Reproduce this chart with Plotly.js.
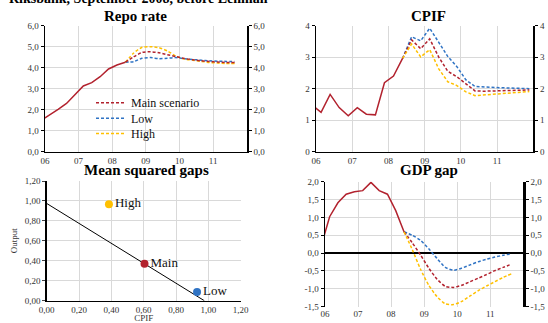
<!DOCTYPE html>
<html>
<head>
<meta charset="utf-8">
<script src="https://cdn.plot.ly/plotly-3.0.1.min.js"></script>
<style>
html,body{margin:0;padding:0;background:#fff;}
#chart{width:548px;height:323px;}
</style>
</head>
<body>
<div id="chart"></div>
<script>
// ---------- DATA ----------
const histQuarters = ["2005Q4","2006Q1","2006Q2","2006Q3","2006Q4","2007Q1","2007Q2","2007Q3","2007Q4","2008Q1","2008Q2"];
const scenQuarters = ["2008Q2","2008Q3","2008Q4","2009Q1","2009Q2","2009Q3","2009Q4","2010Q1","2010Q2","2010Q3","2010Q4","2011Q1","2011Q2","2011Q3","2011Q4"];

const repoHist = [1.50, 1.75, 2.02, 2.30, 2.70, 3.13, 3.29, 3.57, 3.94, 4.13, 4.26];
const repoMain = [4.26, 4.52, 4.73, 4.76, 4.71, 4.62, 4.53, 4.44, 4.38, 4.33, 4.29, 4.27, 4.25, 4.25];
const repoLow  = [4.26, 4.29, 4.45, 4.48, 4.43, 4.45, 4.48, 4.43, 4.39, 4.36, 4.33, 4.31, 4.30, 4.29];
const repoHigh = [4.26, 4.70, 4.97, 5.00, 4.95, 4.80, 4.56, 4.41, 4.36, 4.30, 4.25, 4.22, 4.20, 4.20];

const cpifHist = [1.48, 1.25, 1.82, 1.40, 1.14, 1.40, 1.19, 1.17, 2.19, 2.40, 2.96];
const cpifMain = [2.96, 3.55, 3.27, 3.58, 3.00, 2.55, 2.38, 2.15, 1.93, 1.92, 1.93, 1.94, 1.95, 1.96, 1.96];
const cpifLow  = [2.96, 3.65, 3.52, 3.92, 3.47, 3.02, 2.70, 2.28, 2.07, 2.05, 2.04, 2.03, 2.02, 2.01, 2.00];
const cpifHigh = [2.96, 3.42, 3.01, 3.24, 2.63, 2.22, 2.10, 1.90, 1.78, 1.80, 1.83, 1.86, 1.88, 1.90, 1.91];

const gdpHist = [0.22, 1.02, 1.41, 1.65, 1.72, 1.75, 1.98, 1.75, 1.65, 1.19, 0.60];
const gdpMain = [0.60, 0.29, -0.05, -0.42, -0.73, -0.93, -0.96, -0.90, -0.80, -0.70, -0.60, -0.49, -0.40, -0.31];
const gdpLow  = [0.60, 0.50, 0.36, 0.12, -0.15, -0.40, -0.48, -0.42, -0.33, -0.24, -0.17, -0.11, -0.06, -0.02];
const gdpHigh = [0.60, 0.10, -0.45, -0.90, -1.22, -1.42, -1.44, -1.35, -1.20, -1.05, -0.92, -0.80, -0.68, -0.58];

const msgLabels = ["Main", "Low", "High"];
const msgCPIF   = [0.605, 0.93, 0.385];
const msgOutput = [0.37, 0.087, 0.967];
const lossLineCPIF   = [0, 0.975];
const lossLineOutput = [0.975, 0];

const yearTicks  = [2006, 2007, 2008, 2009, 2010, 2011];
const yearLabels = ["06", "07", "08", "09", "10", "11"];
const gdpTickVals = [-1.5, -1.0, -0.5, 0.0, 0.5, 1.0, 1.5, 2.0];
const gdpTickText = ["-1,5", "-1,0", "-0,5", "0,0", "0,5", "1,0", "1,5", "2,0"];

// ---------- HELPERS ----------
function qx(q) { // quarter label -> position on time axis (mid-quarter)
  const y = parseInt(q.slice(0, 4), 10), n = parseInt(q.slice(5), 10);
  return y + (n - 1) / 4 + 0.14;
}
const hx = histQuarters.map(qx);
const sx = scenQuarters.map(qx);

const RED = "#B2222E", BLUE = "#2F73C4", YEL = "#FFC000";
const FONT = "Liberation Serif";
const DASH = "3px,2px";

function scen(x, y, color, name, xa, ya, legend, spline, legendId) {
  const t = {x: x.slice(0, y.length), y: y, type: "scatter", mode: "lines", name: name,
    xaxis: xa, yaxis: ya, showlegend: legend, hoverinfo: "skip",
    line: {color: color, width: 1.5, dash: DASH, shape: spline ? "spline" : "linear", smoothing: 0.6}};
  if (legendId) t.legend = legendId;
  return t;
}
function hist(y, xa, ya) {
  return {x: hx, y: y, type: "scatter", mode: "lines", xaxis: xa, yaxis: ya,
    showlegend: false, hoverinfo: "skip", line: {color: RED, width: 1.5}};
}

const data = [
  hist(repoHist, "x", "y"),
  scen(sx, repoLow, BLUE, "Low", "x", "y", true, true, "legend2"),
  scen(sx, repoHigh, YEL, "High", "x", "y", true, true, "legend3"),
  scen(sx, repoMain, RED, "Main scenario", "x", "y", true, true, "legend"),
  {x: [], y: [], xaxis: "x", yaxis: "y5", type: "scatter", showlegend: false},

  scen(sx, cpifLow, BLUE, "Low", "x2", "y2", false, false),
  scen(sx, cpifMain, RED, "Main scenario", "x2", "y2", false, false),
  scen(sx, cpifHigh, YEL, "High", "x2", "y2", false, false),
  hist(cpifHist, "x2", "y2"),
  {x: [], y: [], xaxis: "x2", yaxis: "y6", type: "scatter", showlegend: false},

  {x: lossLineCPIF, y: lossLineOutput, xaxis: "x3", yaxis: "y3", type: "scatter", mode: "lines",
    showlegend: false, hoverinfo: "skip", line: {color: "#000", width: 1}},
  {x: msgCPIF, y: msgOutput, text: msgLabels, xaxis: "x3", yaxis: "y3", type: "scatter",
    mode: "markers+text", textposition: "middle right", showlegend: false, hoverinfo: "skip",
    textfont: {family: FONT, size: 13, color: "#111"},
    marker: {size: 8, color: [RED, BLUE, YEL]}},

  scen(sx, gdpLow, BLUE, "Low", "x4", "y4", false, true),
  scen(sx, gdpMain, RED, "Main scenario", "x4", "y4", false, true),
  scen(sx, gdpHigh, YEL, "High", "x4", "y4", false, true),
  hist(gdpHist, "x4", "y4"),
  {x: [], y: [], xaxis: "x4", yaxis: "y7", type: "scatter", showlegend: false}
];

const tickFont = {family: FONT, size: 9, color: "#333"};
const GRID = "#d9d9d9";

function timeX(domain, anchor) {
  return {domain: domain, anchor: anchor, range: [2006, 2012], tickvals: yearTicks, ticktext: yearLabels,
    showgrid: true, gridcolor: GRID, gridwidth: 1, showline: true, linecolor: "#000", linewidth: 1.5,
    zeroline: false, ticks: "", tickfont: tickFont, fixedrange: true};
}
function leftY(domain, anchor, range, dtick, fmt) {
  return {domain: domain, anchor: anchor, range: range, dtick: dtick, tick0: 0, tickformat: fmt,
    showgrid: true, gridcolor: GRID, gridwidth: 1, showline: true, linecolor: "#000", linewidth: 1.5,
    zeroline: false, ticks: "outside", ticklen: 3, tickcolor: "#000", tickfont: tickFont, fixedrange: true};
}
function rightY(over, anchor, range, dtick, fmt, lw) {
  return {overlaying: over, side: "right", anchor: anchor, range: range, dtick: dtick, tick0: 0, tickformat: fmt,
    showgrid: false, showline: true, linecolor: "#000", linewidth: lw, zeroline: false,
    ticks: "outside", ticklen: 3, tickcolor: "#000", tickfont: tickFont, fixedrange: true};
}

const W = 548, H = 323;
const px = v => v / W, py = v => 1 - v / H;

function legendAt(cy) {
  return {x: px(91), y: py(cy), xanchor: "left", yanchor: "middle", bgcolor: "rgba(0,0,0,0)",
    font: {family: FONT, size: 12, color: "#111"}, itemwidth: 30, borderwidth: 0};
}

const layout = {
  width: W, height: H, margin: {l: 0, r: 0, t: 0, b: 0},
  paper_bgcolor: "#fff", plot_bgcolor: "#fff",
  separators: ",.",
  font: {family: FONT, color: "#000"},
  showlegend: true,
  legend: legendAt(102.7),
  legend2: legendAt(118.3),
  legend3: legendAt(133.5),

  xaxis: timeX([px(45), px(246.7)], "y"),
  yaxis: leftY([py(151.7), py(25.7)], "x", [0, 6], 1, ".1f"),
  yaxis5: rightY("y", "x", [0, 6], 1, ".1f", 2),

  xaxis2: timeX([px(316), px(533.3)], "y2"),
  yaxis2: leftY([py(151.7), py(25.7)], "x2", [0, 4], 1, "d"),
  yaxis6: rightY("y2", "x2", [0, 4], 1, "d", 2),

  xaxis3: {domain: [px(46.7), px(240.7)], anchor: "y3", range: [0, 1.2], dtick: 0.2, tick0: 0, tickformat: ".2f",
    showgrid: true, gridcolor: GRID, showline: true, linecolor: "#000", linewidth: 1.5, zeroline: false,
    ticks: "", tickfont: tickFont, fixedrange: true,
    title: {text: "CPIF", font: {family: FONT, size: 9, color: "#333"}, standoff: 0}},
  yaxis3: {domain: [py(300.7), py(181)], anchor: "x3", range: [0, 1.2], dtick: 0.2, tick0: 0, tickformat: ".2f",
    showgrid: true, gridcolor: GRID, showline: true, linecolor: "#000", linewidth: 1.5, zeroline: false,
    ticks: "outside", ticklen: 3, tickfont: tickFont, fixedrange: true,
    title: {text: "Output", font: {family: FONT, size: 9, color: "#333"}, standoff: 5}},

  xaxis4: Object.assign(timeX([px(325), px(523.3)], "y4"), {showline: false}),
  yaxis4: {domain: [py(306.7), py(181.7)], anchor: "x4", range: [-1.5, 2.0], tickvals: gdpTickVals, ticktext: gdpTickText,
    showgrid: true, gridcolor: GRID, showline: true, linecolor: "#000", linewidth: 1.5,
    zeroline: true, zerolinecolor: "#000", zerolinewidth: 1.5,
    ticks: "outside", ticklen: 3, tickcolor: "#000", tickfont: tickFont, fixedrange: true},
  yaxis7: {overlaying: "y4", side: "right", anchor: "x4", range: [-1.5, 2.0], tickvals: gdpTickVals, ticktext: gdpTickText,
    showgrid: false, showline: true, linecolor: "#000", linewidth: 2.5, zeroline: false,
    ticks: "outside", ticklen: 3, tickcolor: "#000", tickfont: tickFont, fixedrange: true},

  annotations: [
    {text: "<b>Riksbank, September 2008, before Lehman</b>", xref: "paper", yref: "paper",
      x: px(7), y: py(-1), xanchor: "left", yanchor: "middle", showarrow: false,
      font: {family: FONT, size: 14, color: "#000"}},
    {text: "<b>Repo rate</b>", xref: "paper", yref: "paper", x: px(135), y: py(16),
      xanchor: "center", yanchor: "middle", showarrow: false, font: {family: FONT, size: 15, color: "#000"}},
    {text: "<b>CPIF</b>", xref: "paper", yref: "paper", x: px(428.5), y: py(16),
      xanchor: "center", yanchor: "middle", showarrow: false, font: {family: FONT, size: 15, color: "#000"}},
    {text: "<b>Mean squared gaps</b>", xref: "paper", yref: "paper", x: px(146), y: py(170),
      xanchor: "center", yanchor: "middle", showarrow: false, font: {family: FONT, size: 15, color: "#000"}},
    {text: "<b>GDP gap</b>", xref: "paper", yref: "paper", x: px(428.5), y: py(170),
      xanchor: "center", yanchor: "middle", showarrow: false, font: {family: FONT, size: 15, color: "#000"}}
  ]
};

Plotly.newPlot("chart", data, layout, {displayModeBar: false, staticPlot: true});
</script>
</body>
</html>
